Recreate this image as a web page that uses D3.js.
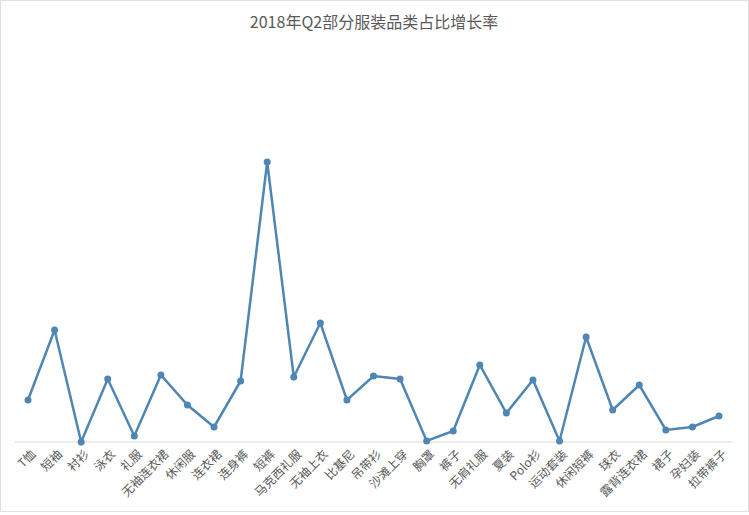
<!DOCTYPE html>
<html><head><meta charset="utf-8">
<script src="https://cdn.jsdelivr.net/npm/d3@7"></script>
<style>body{margin:0;background:#fff}</style></head>
<body><svg id="c" width="749" height="515"></svg>
<script>
const categories=["T恤","短袖","衬衫","泳衣","礼服","无袖连衣裙","休闲服","连衣裙","连身裤","短裤","马克西礼服","无袖上衣","比基尼","吊带衫","沙滩上穿","胸罩","裤子","无肩礼服","夏装","Polo衫","运动套装","休闲短裤","球衣","露背连衣裙","裙子","孕妇装","拉带裤子"];
const values=[42,112,0,63,6,67,37,15,61,280,65,119,42,66,63,1,11,77,29,62,1,105,32,57,12,15,26];
const title="2018年Q2部分服装品类占比增长率";
const svg=d3.select("#c");
const font="'Noto Sans CJK SC','Noto Sans',sans-serif";
const x=d3.scalePoint().domain(categories).range([28,719]);
const y=d3.scaleLinear().domain([0,280]).range([442,162]);
svg.append("rect").attr("x",0.5).attr("y",0.5).attr("width",748).attr("height",511).attr("fill","none").attr("stroke","#e0e0e0");
svg.append("text").attr("x",374).attr("y",28).attr("text-anchor","middle")
 .attr("font-family",font).attr("font-size",16).attr("fill","#595959").text(title);
svg.append("line").attr("x1",15).attr("x2",733).attr("y1",y(0)).attr("y2",y(0)).attr("stroke","#d9d9d9");
const ax=svg.append("g").attr("transform",`translate(0,${y(0)})`).call(d3.axisBottom(x).tickSize(0));
ax.select(".domain").remove();
ax.selectAll("text").attr("font-family",font).attr("font-size",12).attr("fill","#595959")
 .attr("text-anchor","end").attr("x",0).attr("y",0).attr("dy","0.35em")
 .attr("transform","translate(5,10) rotate(-45)");
svg.append("path").datum(values).attr("fill","none").attr("stroke","#4f86b3").attr("stroke-width",2.5)
 .attr("d",d3.line().x((d,i)=>x(categories[i])).y(d=>y(d)));
svg.selectAll("circle.p").data(values).join("circle").attr("cx",(d,i)=>x(categories[i])).attr("cy",d=>y(d)).attr("r",3.5).attr("fill","#4f86b3");
</script></body></html>
